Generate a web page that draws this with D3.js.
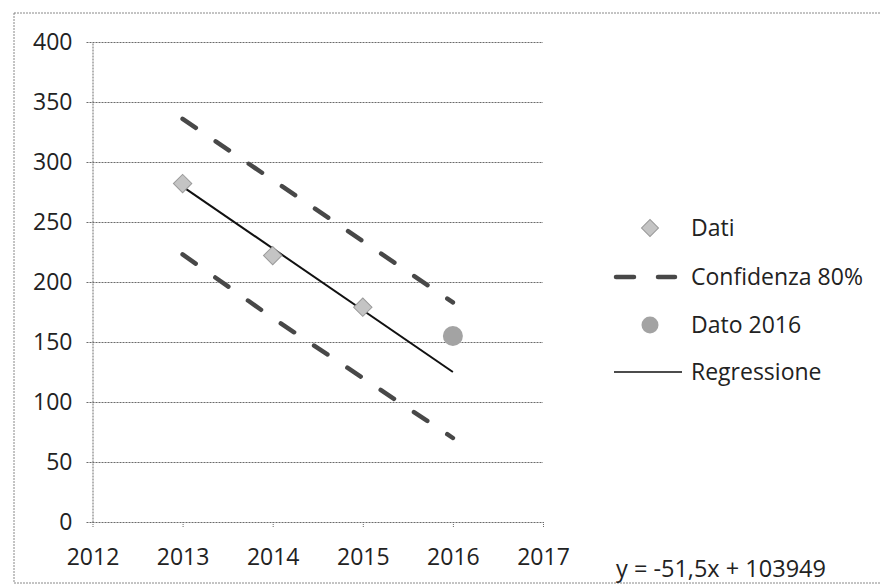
<!DOCTYPE html>
<html><head><meta charset="utf-8">
<script src="https://cdn.jsdelivr.net/npm/d3@7"></script>
<style>
html,body{margin:0;padding:0;background:#fff;}
svg{display:block;}
text{font-family:"Open Sans",sans-serif;fill:#222;}
</style></head>
<body><svg id="c" width="880" height="585"></svg>
<script>
// ---- data ----
const years = [2013, 2014, 2015];
const dati = [282, 222, 179];
const confYears = [2013, 2014, 2015, 2016];
const confUpper = [336, 285, 234, 183];
const confLower = [223, 170, 120, 70];
const dato2016Year = [2016];
const dato2016 = [155];
const regYears = [2013, 2016];
const regValues = [279.5, 125];
const xTicks = [2012, 2013, 2014, 2015, 2016, 2017];
const yTicks = [0, 50, 100, 150, 200, 250, 300, 350, 400];
const legendLabels = ["Dati", "Confidenza 80%", "Dato 2016", "Regressione"];
const equation = "y = -51,5x + 103949";

const svg = d3.select("#c");
const x = d3.scaleLinear().domain([2012, 2017]).range([92.5, 543]);
const y = d3.scaleLinear().domain([0, 400]).range([522, 42]);

// outer border
svg.append("rect").attr("x", 14).attr("y", 13).attr("width", 880).attr("height", 570)
  .attr("fill", "none").attr("stroke", "#888").attr("stroke-dasharray", "2,1").attr("stroke-width", 1);

const grid = "#6a6a6a";
// y axis
const ya = svg.append("g").attr("transform", `translate(${x(2012)},0)`)
  .call(d3.axisLeft(y).tickValues(yTicks).tickSize(6).tickSizeOuter(0).tickPadding(14));
ya.select(".domain").attr("stroke", grid).attr("stroke-dasharray", "2,1");
ya.selectAll(".tick line").attr("x1", -6).attr("x2", x(2017) - x(2012))
  .attr("stroke", grid).attr("stroke-dasharray", "2,1");
ya.selectAll(".tick text").style("font-size", "23px").attr("fill", "#222");

// x axis
const xa = svg.append("g").attr("transform", `translate(0,${y(0)})`)
  .call(d3.axisBottom(x).tickValues(xTicks).tickFormat(d3.format("d")).tickSize(6).tickSizeOuter(0).tickPadding(21));
xa.select(".domain").remove();
xa.selectAll(".tick line").attr("stroke", grid).attr("stroke-dasharray", "1,1");
xa.selectAll(".tick text").style("font-size", "23px").attr("fill", "#222");

// confidence lines
const line = d3.line().x(d => x(d[0])).y(d => y(d[1]));
[confUpper, confLower].forEach(vals => {
  svg.append("path").datum(confYears.map((yr, i) => [yr, vals[i]]))
    .attr("d", line).attr("fill", "none").attr("stroke", "#484848")
    .attr("stroke-width", 4.5).attr("stroke-linecap", "round").attr("stroke-dasharray", "16,24");
});

// regression
svg.append("path").datum(regYears.map((yr, i) => [yr, regValues[i]]))
  .attr("d", line).attr("fill", "none").attr("stroke", "#111").attr("stroke-width", 2);

// data diamonds
svg.selectAll(".dia").data(years.map((yr, i) => [yr, dati[i]])).enter().append("rect")
  .attr("x", -6.5).attr("y", -6.5).attr("width", 13).attr("height", 13)
  .attr("transform", d => `translate(${x(d[0])},${y(d[1])}) rotate(45)`)
  .attr("fill", "#c4c4c4").attr("stroke", "#9a9a9a").attr("stroke-width", 1);

// dato 2016
svg.selectAll(".dot").data(dato2016Year.map((yr, i) => [yr, dato2016[i]])).enter().append("circle")
  .attr("cx", d => x(d[0])).attr("cy", d => y(d[1])).attr("r", 10).attr("fill", "#a3a3a3");

// legend
const ly = [228, 277, 325, 372];
const lg = svg.append("g");
lg.append("rect").attr("x", -6).attr("y", -6).attr("width", 12).attr("height", 12)
  .attr("transform", `translate(650,${ly[0]}) rotate(45)`).attr("fill", "#c4c4c4").attr("stroke", "#9a9a9a");
lg.append("line").attr("x1", 616).attr("x2", 675).attr("y1", ly[1]).attr("y2", ly[1])
  .attr("stroke", "#484848").attr("stroke-width", 4.5).attr("stroke-linecap", "round").attr("stroke-dasharray", "18,24");
lg.append("circle").attr("cx", 650).attr("cy", ly[2]).attr("r", 8.5).attr("fill", "#a3a3a3");
lg.append("line").attr("x1", 614).attr("x2", 682).attr("y1", ly[3]).attr("y2", ly[3])
  .attr("stroke", "#111").attr("stroke-width", 1.5);
lg.selectAll(".lt").data(legendLabels).enter().append("text")
  .attr("x", 691).attr("y", (d, i) => ly[i]).attr("dy", "0.35em")
  .style("font-size", "23px").text(d => d);

// equation
svg.append("text").attr("x", 616).attr("y", 577).style("font-size", "23.5px").text(equation);
</script></body></html>
